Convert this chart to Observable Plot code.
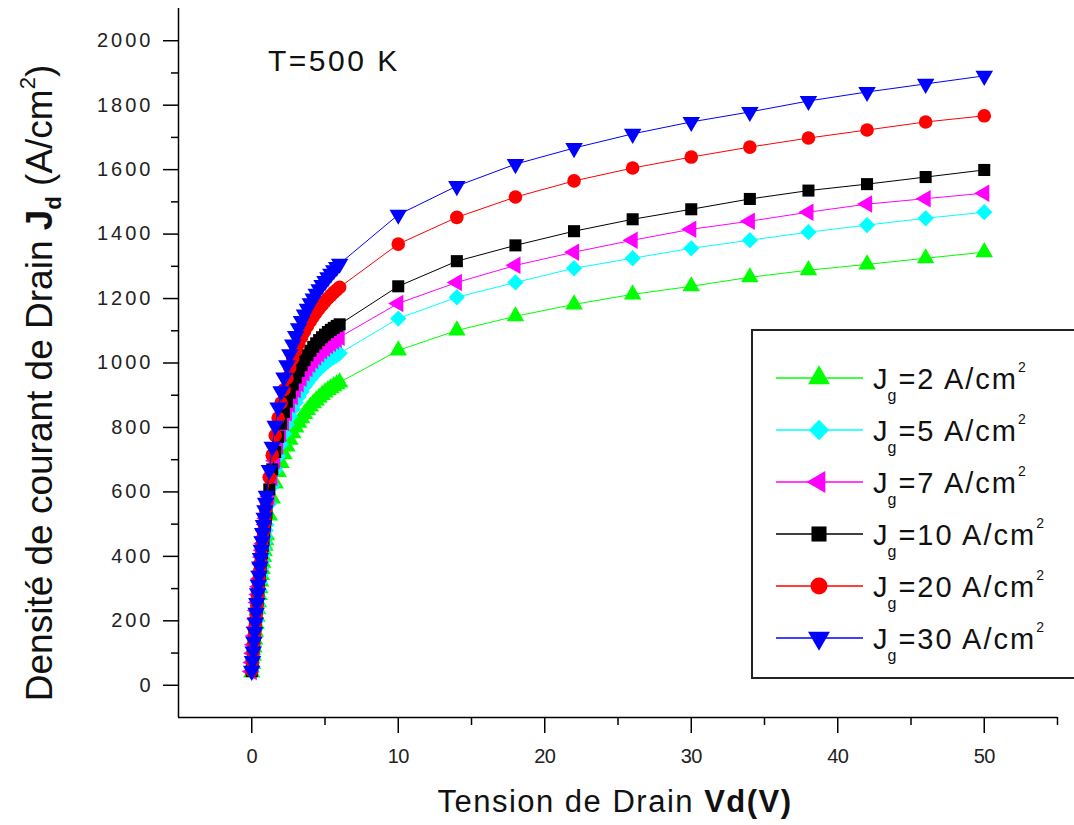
<!DOCTYPE html>
<html><head><meta charset="utf-8">
<script src="https://cdn.jsdelivr.net/npm/d3@7"></script>
<script src="https://cdn.jsdelivr.net/npm/@observablehq/plot@0.6"></script>
<style>
body{margin:0;background:#fff;overflow:hidden;font-family:"Liberation Sans",Arial,sans-serif;}
#wrap{position:relative;width:1074px;height:825px;overflow:hidden;}
#wrap > svg{position:absolute;left:0;top:0;}
.ylab text{letter-spacing:3px;}
.xlab text{letter-spacing:-0.5px;}
</style></head><body><div id="wrap"></div>
<script>
// Drain voltage (V)
const vd = [0,0.05,0.1,0.15,0.2,0.25,0.3,0.35,0.4,0.45,0.5,0.55,0.6,0.65,0.7,0.75,0.8,0.85,0.9,0.95,1.0,
  1.2,1.4,1.6,1.8,2.0,2.2,2.4,2.6,2.8,3.0,3.2,3.4,3.6,3.8,4.0,4.2,4.4,4.6,4.8,5.0,5.2,5.4,5.6,5.8,6.0,
  10,14,18,22,26,30,34,38,42,46,50];
// Drain current density (A/cm2) per gate current density
const jg2 = [40,66,92,117,142,166,190,213,236,258,280,301,322,342,361,380,398,416,433,450,466,
  527,580,626,662,690,717,741,762,782,800,815,829,842,854,865,875,884,893,901,909,916,922,928,934,940,
  1039,1101,1145,1182,1213,1238,1266,1288,1306,1325,1344];
const jg5 = [42,69,96,123,149,175,200,225,249,273,296,319,341,363,384,404,424,443,462,480,498,
  563,619,668,711,748,780,809,834,857,877,895,911,926,939,951,962,972,981,990,998,1005,1012,1018,1024,1030,
  1138,1204,1250,1294,1325,1356,1381,1406,1428,1449,1468];
const jg7 = [43,71,99,126,153,180,206,232,257,282,306,330,353,376,398,419,440,460,480,499,518,
  586,645,697,742,781,815,845,872,896,917,936,953,969,983,996,1008,1019,1029,1038,1046,1054,1061,1068,1074,1080,
  1185,1250,1303,1344,1381,1415,1440,1468,1493,1510,1527];
const jg10 = [44,72,100,128,156,184,211,238,264,290,315,340,364,388,411,433,455,476,497,517,536,
  608,670,724,771,812,848,880,908,933,955,975,993,1009,1024,1038,1050,1061,1071,1080,1088,1096,1103,1109,1115,1120,
  1238,1316,1365,1409,1446,1477,1509,1535,1555,1577,1599];
const jg20 = [45,74,103,132,161,190,219,247,275,302,329,355,381,406,431,455,479,502,524,546,567,
  645,714,775,829,876,917,953,985,1013,1038,1060,1080,1098,1115,1130,1144,1157,1169,1180,1191,1201,1210,1219,1227,1235,
  1369,1452,1515,1565,1605,1639,1670,1698,1723,1748,1767];
const jg30 = [45,75,105,135,165,195,225,255,285,312,340,368,395,420,447,472,497,520,543,566,588,
  668,740,805,862,912,955,993,1027,1057,1084,1108,1130,1150,1168,1185,1200,1215,1229,1242,1254,1266,1277,1288,1298,1308,
  1460,1549,1617,1667,1711,1748,1779,1813,1841,1866,1891];

const seriesNames = ["2","5","7","10","20","30"];
const seriesValues = [jg2, jg5, jg7, jg10, jg20, jg30];
const seriesColors = ["#00ff00","#00ffff","#ff00ff","#000000","#ff0000","#0000ff"];
const seriesSymbols = ["triangle","square","triangle","square","circle","triangle"];
const seriesRotate = [0,45,-90,0,0,180];
const seriesR = [6.5,6.5,6.5,6.8,6.8,6.5];

const xMajor = [0,10,20,30,40,50];
const xMinor = [5,15,25,35,45,55];
const yMajor = [0,200,400,600,800,1000,1200,1400,1600,1800,2000];
const yMinor = [100,300,500,700,900,1100,1300,1500,1700,1900];

const font = '"Liberation Sans", Arial, sans-serif';

const seriesMarks = [];
seriesNames.forEach((name, i) => {
  const data = vd.map((v, k) => ({v, j: seriesValues[i][k]}));
  seriesMarks.push(Plot.line(data, {x: "v", y: "j", stroke: seriesColors[i], strokeWidth: 1}));
  seriesMarks.push(Plot.dot(data, {x: "v", y: "j", symbol: seriesSymbols[i], r: seriesR[i],
    fill: seriesColors[i], stroke: "none", rotate: seriesRotate[i]}));
});

const chart = Plot.plot({
  width: 1074, height: 825,
  marginLeft: 178, marginRight: 17, marginTop: 8, marginBottom: 108,
  x: {domain: [-5, 55]},
  y: {domain: [-100, 2100]},
  style: {fontFamily: font, background: "white", color: "black", overflow: "visible"},
  marks: [
    Plot.axisY({ticks: yMinor, tickSize: 7, tickFormat: () => "", label: null, strokeWidth: 1.5}),
    Plot.axisY({ticks: yMajor, tickSize: 15, tickPadding: 10, fontSize: 20, tickFormat: d3.format("d"),
      label: null, strokeWidth: 1.5, className: "ylab", fill: "#222"}),
    Plot.axisX({ticks: xMinor, tickSize: 8, tickFormat: () => "", label: null, strokeWidth: 1.5}),
    Plot.axisX({ticks: xMajor, tickSize: 16, tickPadding: 15, fontSize: 20, label: null,
      strokeWidth: 1.5, className: "xlab", fill: "#222"}),
    Plot.ruleX([-5], {strokeWidth: 1.5}),
    Plot.ruleY([-100], {strokeWidth: 1.5}),
    ...seriesMarks
  ]
});
const wrap = document.getElementById("wrap");
wrap.appendChild(chart);

// Overlay text (titles)
const ov = d3.select(wrap).append("svg").attr("width", 1074).attr("height", 825)
  .style("font-family", font).style("pointer-events", "none");
ov.append("text").attr("x", 268).attr("y", 71).attr("font-size", 30)
  .attr("letter-spacing", 2.5).attr("fill", "#111").text("T=500 K");
const xt = ov.append("text").attr("x", 615).attr("y", 812).attr("font-size", 31)
  .attr("letter-spacing", 1.5).attr("text-anchor", "middle").attr("fill", "#111");
xt.append("tspan").text("Tension de Drain ");
xt.append("tspan").attr("font-weight", "bold").text("Vd(V)");
const yt = ov.append("text").attr("transform", "translate(52,383) rotate(-90)").attr("font-size", 37)
  .attr("text-anchor", "middle").attr("fill", "#111");
yt.append("tspan").text("Densité de courant de Drain ");
yt.append("tspan").attr("font-weight", "bold").text("J");
yt.append("tspan").attr("font-weight", "bold").attr("font-size", 22).attr("dy", 9).text("d");
yt.append("tspan").attr("dy", -9).text(" (A/cm");
yt.append("tspan").attr("font-size", 22).attr("dy", -17).text("2");
yt.append("tspan").attr("dy", 17).text(")");

// Legend
const lg = ov.append("g").attr("transform", "translate(752,330)");
lg.append("rect").attr("x", 0).attr("y", 0).attr("width", 360).attr("height", 348)
  .attr("fill", "white").attr("stroke", "#222").attr("stroke-width", 2);
const symMap = {triangle: d3.symbolTriangle, square: d3.symbolSquare, circle: d3.symbolCircle};
seriesNames.forEach((name, i) => {
  const cy = 48 + 52 * i;
  const g = lg.append("g");
  g.append("line").attr("x1", 24).attr("x2", 111).attr("y1", cy).attr("y2", cy)
    .attr("stroke", seriesColors[i]).attr("stroke-width", 1.5);
  const r = seriesR[i] * 1.25;
  g.append("path").attr("d", d3.symbol(symMap[seriesSymbols[i]], Math.PI * r * r)())
    .attr("transform", `translate(67,${cy}) rotate(${seriesRotate[i]})`).attr("fill", seriesColors[i]);
  const t = g.append("text").attr("x", 121).attr("y", cy + 11).attr("font-size", 29)
    .attr("letter-spacing", 2).attr("fill", "#111");
  t.append("tspan").text("J");
  t.append("tspan").attr("font-size", 16).attr("dy", 12).attr("dx", -2).text("g");
  t.append("tspan").attr("dy", -12).text(`=${name} A/cm`);
  t.append("tspan").attr("font-size", 14).attr("dy", -17).attr("dx", 0).text("2");
});
</script></body></html>
